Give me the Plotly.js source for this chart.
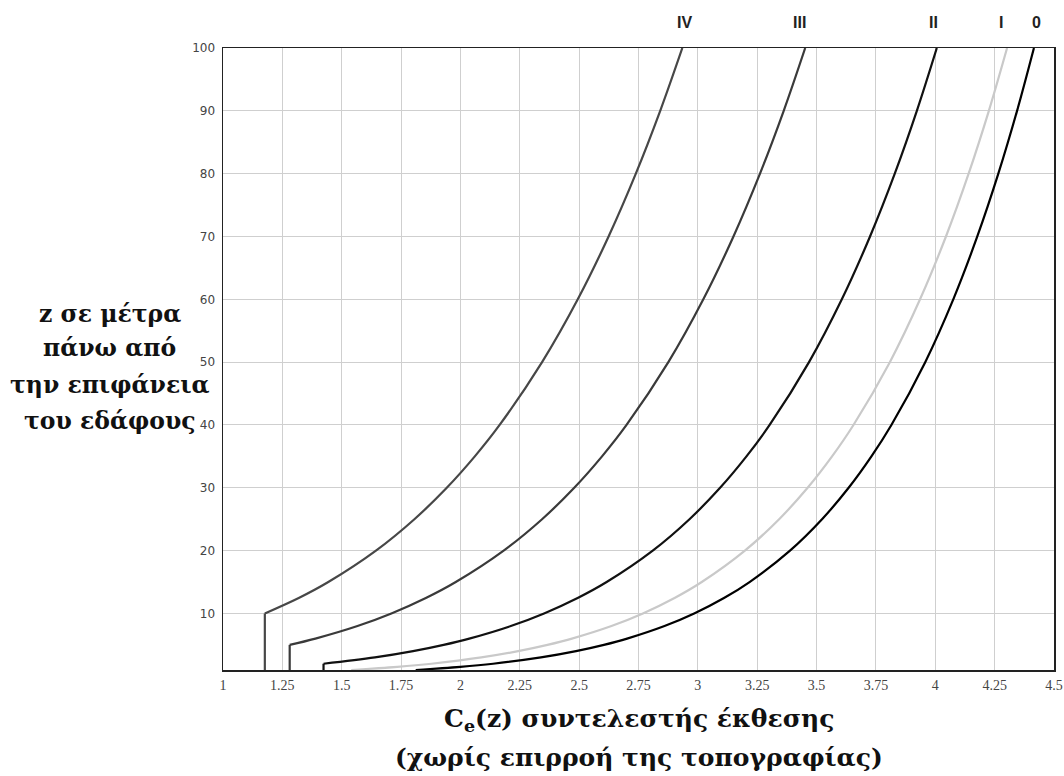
<!DOCTYPE html>
<html>
<head>
<meta charset="utf-8">
<script src="https://cdn.plot.ly/plotly-3.0.1.min.js"></script>
<style>html,body{margin:0;padding:0;background:#fff;}#chart{width:1064px;height:776px;}</style>
</head>
<body>
<div id="chart"></div>
<script>
// Terrain categories
const categories = ["0", "I", "II", "III", "IV"];

// Height z (m) and exposure coefficient ce(z)
const z0Cat = [1, 1.5, 2, 3, 4, 5, 6, 8, 10, 12.5, 15, 20, 25, 30, 35, 40, 50, 60, 70, 80, 90, 100];
const ce0Cat = [1.8117, 1.9995, 2.1376, 2.3390, 2.4868, 2.6043, 2.7021, 2.8595, 2.9845, 3.1119, 3.2177, 3.3881, 3.5230, 3.6351, 3.7310, 3.8151, 3.9576, 4.0758, 4.1769, 4.2655, 4.3444, 4.4155];

const zICat = [1, 1.5, 2, 3, 4, 5, 6, 8, 10, 12.5, 15, 20, 25, 30, 35, 40, 50, 60, 70, 80, 90, 100];
const ceICat = [1.5401, 1.7342, 1.8777, 2.0881, 2.2430, 2.3666, 2.4696, 2.6361, 2.7685, 2.9038, 3.0164, 3.1981, 3.3423, 3.4623, 3.5652, 3.6554, 3.8086, 3.9358, 4.0449, 4.1404, 4.2256, 4.3024];

const zIICat = [1, 2, 3, 4, 5, 6, 8, 10, 12.5, 15, 20, 25, 30, 35, 40, 50, 60, 70, 80, 90, 100];
const ceIICat = [1.4234, 1.4234, 1.6398, 1.8005, 1.9293, 2.0372, 2.2123, 2.3523, 2.4958, 2.6158, 2.8100, 2.9647, 3.0937, 3.2047, 3.3023, 3.4682, 3.6064, 3.7251, 3.8293, 3.9223, 4.0064];

const zIIICat = [1, 5, 6, 8, 10, 12.5, 15, 20, 25, 30, 35, 40, 50, 60, 70, 80, 90, 100];
const ceIIICat = [1.2809, 1.2809, 1.3892, 1.5665, 1.7092, 1.8566, 1.9804, 2.1821, 2.3438, 2.4794, 2.5964, 2.6996, 2.8757, 3.0230, 3.1499, 3.2617, 3.3616, 3.4521];

const zIVCat = [1, 10, 12.5, 15, 20, 25, 30, 35, 40, 50, 60, 70, 80, 90, 100];
const ceIVCat = [1.1762, 1.1762, 1.3211, 1.4435, 1.6442, 1.8061, 1.9425, 2.0606, 2.1651, 2.3439, 2.4942, 2.6240, 2.7387, 2.8414, 2.9346];

// Axis ticks
const xTickVals = [1, 1.25, 1.5, 1.75, 2, 2.25, 2.5, 2.75, 3, 3.25, 3.5, 3.75, 4, 4.25, 4.5];
const yTickVals = [10, 20, 30, 40, 50, 60, 70, 80, 90, 100];

const yTitleLines = ["z σε μέτρα", "πάνω από", "την επιφάνεια", "του εδάφους"];
const xTitleLines = ["C<sub>e</sub>(z) συντελεστής έκθεσης", "(χωρίς επιρροή της τοπογραφίας)"];

const series = [
  {name: "IV", x: ceIVCat, y: zIVCat, color: "#474747", shift: 2, vert: true},
  {name: "III", x: ceIIICat, y: zIIICat, color: "#3a3a3a", shift: -6, vert: true},
  {name: "II", x: ceIICat, y: zIICat, color: "#111111", shift: -3, vert: true},
  {name: "I", x: ceICat, y: zICat, color: "#c9c9c9", shift: -6, vert: false},
  {name: "0", x: ce0Cat, y: z0Cat, color: "#000000", shift: 3, vert: false}
];

const traces = [];
series.forEach(s => {
  const start = s.vert ? 1 : 0;
  if (s.vert) {
    traces.push({
      type: "scatter", mode: "lines", name: s.name + " min",
      x: s.x.slice(0, 2), y: s.y.slice(0, 2),
      line: {color: s.color, width: 2.2}, hoverinfo: "skip"
    });
  }
  traces.push({
    type: "scatter", mode: "lines", name: s.name,
    x: s.x.slice(start), y: s.y.slice(start),
    line: {color: s.color, width: 2.2, shape: "spline", smoothing: 1},
    hoverinfo: "skip"
  });
});

const annotations = series.map(s => ({
  xref: "x", yref: "paper",
  x: s.x[s.x.length - 1], y: 1,
  xshift: s.shift, yshift: 26,
  text: "<b>" + s.name + "</b>",
  showarrow: false,
  font: {family: "Liberation Sans, Arial, sans-serif", size: 16, color: "#222"},
  xanchor: "center", yanchor: "middle"
}));

const yLineY = [314, 348, 385, 421];
yTitleLines.forEach((t, i) => {
  annotations.push({
    xref: "paper", yref: "paper",
    x: -0.136, y: 1 - (yLineY[i] - 48) / 622,
    text: "<b>" + t + "</b>", showarrow: false,
    font: {family: "DejaVu Serif, serif", size: 23.5, color: "#111"},
    xanchor: "center", yanchor: "middle"
  });
});
const xLineY = [720, 757];
xTitleLines.forEach((t, i) => {
  annotations.push({
    xref: "paper", yref: "paper",
    x: 0.5, y: 1 - (xLineY[i] - 48) / 622,
    text: "<b>" + t + "</b>", showarrow: false,
    font: {family: "DejaVu Serif, serif", size: 25, color: "#111"},
    xanchor: "center", yanchor: "middle"
  });
});

const layout = {
  width: 1064, height: 776,
  margin: {l: 223, r: 10, t: 48, b: 106, pad: 0},
  paper_bgcolor: "#ffffff", plot_bgcolor: "#ffffff",
  showlegend: false,
  xaxis: {
    range: [1, 4.5], tickmode: "array", tickvals: xTickVals,
    ticktext: xTickVals.map(v => String(v)),
    showgrid: true, gridcolor: "#cfcfcf", gridwidth: 1,
    showline: true, linecolor: "#222", linewidth: 1.5, mirror: true,
    ticks: "", zeroline: false, ticklabelstandoff: 2,
    tickfont: {family: "Liberation Serif, Times New Roman, serif", size: 14, color: "#444"}
  },
  yaxis: {
    range: [1, 100], tickmode: "array", tickvals: yTickVals,
    showgrid: true, gridcolor: "#cfcfcf", gridwidth: 1,
    showline: true, linecolor: "#222", linewidth: 1.5, mirror: true,
    ticks: "", zeroline: false, ticklabelstandoff: 4,
    tickfont: {family: "DejaVu Sans, Verdana, sans-serif", size: 12, color: "#444"}
  },
  annotations: annotations
};

Plotly.newPlot("chart", traces, layout, {staticPlot: true, displayModeBar: false});
</script>
</body>
</html>
